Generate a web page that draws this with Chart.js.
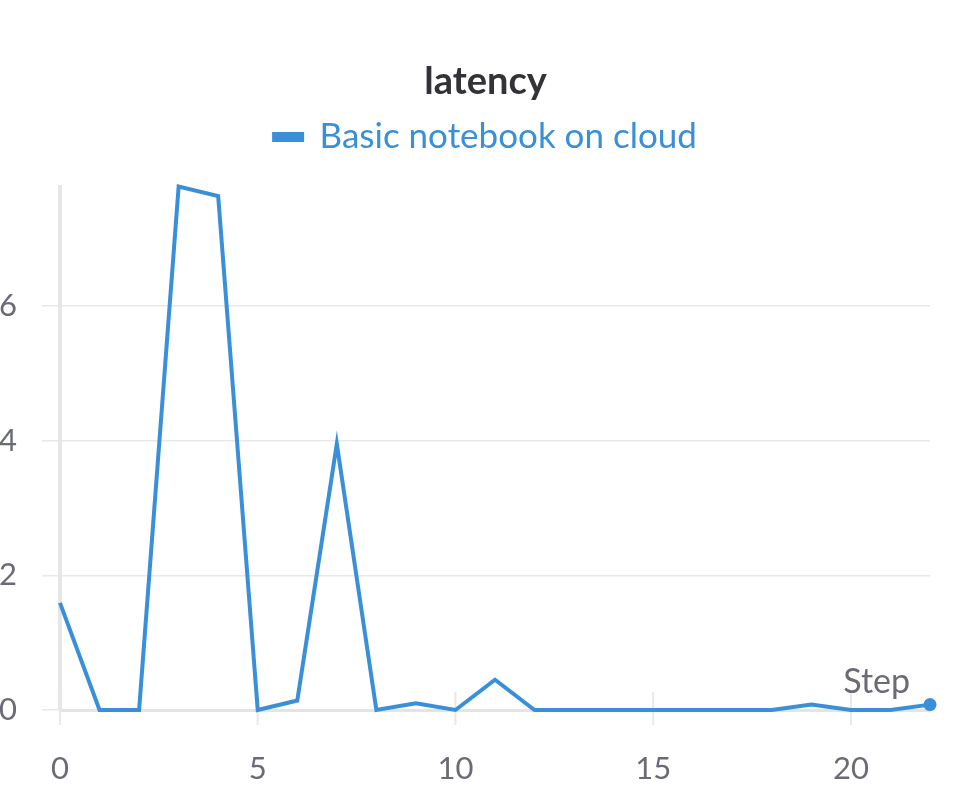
<!DOCTYPE html>
<html>
<head>
<meta charset="utf-8">
<script src="https://cdn.jsdelivr.net/npm/chart.js@4/dist/chart.umd.min.js"></script>
<style>
html,body{margin:0;padding:0;background:#fff;}
#wrap{width:971px;height:785px;}
</style>
</head>
<body>
<div id="wrap"><canvas id="c" width="971" height="785"></canvas></div>
<script>
const steps = [0,1,2,3,4,5,6,7,8,9,10,11,12,13,14,15,16,17,18,19,20,21,22];
const latency = [1.59,0,0,7.77,7.63,0,0.14,3.95,0,0.1,0,0.45,0,0,0,0,0,0,0,0.08,0,0,0.08];
const xTicks = [0,5,10,15,20];
const yTicks = [0,2,4,6];
const seriesName = 'Basic notebook on cloud';
const chartTitle = 'latency';
const xLabel = 'Step';

const BLUE = '#3a8fd9';
const GRID = '#e8e8ea';
const TXT = '#6b6b76';
const FONT = 'Lato, "Noto Sans", sans-serif';

const points = steps.map((s,i)=>({x:s,y:latency[i]}));

const extras = {
  id:'extras',
  beforeDatasetsDraw(chart){
    const ctx = chart.ctx, xs = chart.scales.x, ca = chart.chartArea;
    ctx.save();
    ctx.strokeStyle = GRID;
    ctx.lineWidth = 2;
    xTicks.forEach(v=>{
      const px = xs.getPixelForValue(v);
      ctx.beginPath();
      ctx.moveTo(px, ca.bottom-18);
      ctx.lineTo(px, ca.bottom+15);
      ctx.stroke();
    });
    ctx.restore();
  },
  afterDatasetsDraw(chart){
    const ctx = chart.ctx, ca = chart.chartArea;
    ctx.save();
    ctx.font = '34px ' + FONT;
    ctx.fillStyle = TXT;
    ctx.textAlign = 'right';
    ctx.textBaseline = 'alphabetic';
    ctx.fillText(xLabel, ca.right-20, ca.bottom-17);
    ctx.restore();
  }
};

new Chart(document.getElementById('c'), {
  type:'line',
  data:{datasets:[{
    label:seriesName,
    data:points,
    borderColor:BLUE,
    backgroundColor:BLUE,
    borderWidth:4,
    tension:0,
    pointRadius:steps.map((s,i)=> i===steps.length-1 ? 6.5 : 0),
    pointBackgroundColor:BLUE,
    pointBorderWidth:0,
    clip:false
  }]},
  options:{
    responsive:false,
    animation:false,
    layout:{padding:{left:0,right:0,top:59,bottom:0}},
    plugins:{
      title:{display:true,text:chartTitle,color:'#333337',
        font:{family:FONT,size:38,weight:'bold'},padding:{top:0,bottom:5}},
      subtitle:{display:true,text:'',weight:500,
        font:{size:10},padding:{top:0,bottom:10}},
      legend:{display:true,
        labels:{color:BLUE,boxWidth:28,boxHeight:6,
          font:{family:FONT,size:35},padding:10}},
      tooltip:{enabled:false}
    },
    scales:{
      x:{type:'linear',min:0,max:22,
        grid:{color:'transparent',drawTicks:false},
        border:{display:true,color:'#e4e4e6',width:3},
        afterBuildTicks(s){s.ticks = xTicks.map(v=>({value:v}));},
        afterFit(s){s.height = 75;},
        ticks:{color:TXT,font:{family:FONT,size:31},padding:40,maxRotation:0}
      },
      y:{type:'linear',min:0,max:7.77,
        grid:{color:GRID,lineWidth:1.5,tickLength:18},
        border:{display:true,color:'#e6e6e8',width:4},
        afterBuildTicks(s){s.ticks = yTicks.map(v=>({value:v}));},
        afterFit(s){s.width = 60;},
        ticks:{color:TXT,font:{family:FONT,size:31},padding:25}
      },
      yRight:{type:'linear',position:'right',min:0,max:1,
        grid:{display:false,drawTicks:false},
        border:{display:false},
        ticks:{display:false},
        afterFit(s){s.width = 41;}
      }
    }
  },
  plugins:[extras]
});
</script>
</body>
</html>
